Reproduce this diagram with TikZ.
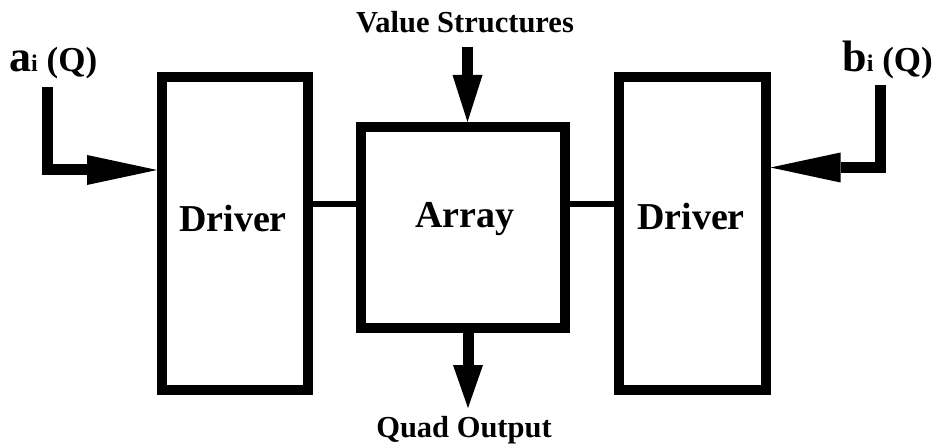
\documentclass[tikz,border=0pt]{standalone}
\usepackage{fontspec}
\setmainfont{Liberation Serif}
\usetikzlibrary{arrows.meta}
\begin{document}
\begin{tikzpicture}[x=1pt,y=-1pt,
  box/.style={draw=black, line width=10pt, inner sep=0pt, fill=white},
  lbl/.style={inner sep=0pt, font=\bfseries\fontsize{38}{40}\selectfont},
  captxt/.style={inner sep=0pt, font=\bfseries\fontsize{30.5}{32}\selectfont},
  sidelbl/.style={inner sep=0pt, font=\bfseries},
  bigarrow/.style={line width=11pt, line join=miter, -{Triangle[length=70pt,width=30pt,line width=0pt]}},
  vertarrow/.style={line width=11pt, -{Triangle[length=#1,width=30pt,line width=0pt]}},
  link/.style={line width=6pt}]
\useasboundingbox (0,0) rectangle (934,446);
% boxes
\node[box, minimum width=146pt, minimum height=313pt] (ld) at (235,233.5) {};
\node[box, minimum width=204pt, minimum height=201pt] (ar) at (463,227.5) {};
\node[box, minimum width=147pt, minimum height=313pt] (rd) at (692,233.5) {};
% box texts
\node[lbl, anchor=base] (ldt) at (233,232) {Driver};
\node[lbl, anchor=base] (art) at (465,228) {Array};
\node[lbl, anchor=base] (rdt) at (691,230) {Driver};
% connectors between boxes
\coordinate (lk) at (0,204);
\draw[link] (ld.east |- lk) -- (ar.west |- lk);
\draw[link] (ar.east |- lk) -- (rd.west |- lk);
% top and bottom captions
\node[captxt, anchor=base] (vs) at (465,33) {Value Structures};
\node[captxt, anchor=base] (qo) at (464,437) {Quad Output};
% side labels
\node[sidelbl, anchor=base west] (al) at (9,72) {{\fontsize{44}{46}\selectfont a}{\fontsize{24}{26}\selectfont i}{\fontsize{35}{37}\selectfont\ (Q)}};
\node[sidelbl, anchor=base east] (bl) at (933,72) {{\fontsize{44}{46}\selectfont b}{\fontsize{24}{26}\selectfont i}{\fontsize{35}{37}\selectfont\ (Q)}};
% input arrows
\coordinate (astart) at (47.5,87);
\coordinate (aend) at (0,170);
\draw[bigarrow] (astart) |- (ld.west |- aend);
\coordinate (bstart) at (880.5,85);
\coordinate (bend) at (0,167.5);
\draw[bigarrow] (bstart) |- (rd.east |- bend);
% value structures arrow
\coordinate (vtop) at (467.5,47);
\draw[vertarrow=47pt] (vtop) -- (vtop |- ar.north);
% quad output arrow
\coordinate (qend) at (468,408);
\draw[vertarrow=43pt] (qend |- ar.south) -- (qend);
\end{tikzpicture}
\end{document}
